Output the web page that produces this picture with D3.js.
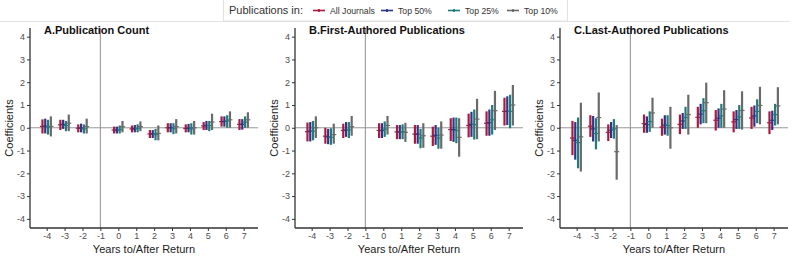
<!DOCTYPE html>
<html>
<head>
<meta charset="utf-8">
<script src="https://cdn.jsdelivr.net/npm/d3@7"></script>
<style>
  body { margin: 0; background: #fff; }
  svg { font-family: "Liberation Sans", Arial, sans-serif; display: block; }
</style>
</head>
<body>
<div id="chart-area"></div>
<script>
// years relative to return (-1 is the reference year, no estimate)
const years = [-4, -3, -2, 0, 1, 2, 3, 4, 5, 6, 7];
const yTicks = [-4, -3, -2, -1, 0, 1, 2, 3, 4];
const xTicks = [-4, -3, -2, -1, 0, 1, 2, 3, 4, 5, 6, 7];
const seriesNames = ['All Journals', 'Top 50%', 'Top 25%', 'Top 10%'];
const seriesColors = ['#b0173f', '#2c3585', '#1f7c7a', '#6a6a6a'];
const panelTitles = ['A.Publication Count', 'B.First-Authored Publications', 'C.Last-Authored Publications'];

// estimates / lower / upper, one row per series, one column per year
const countEst = [
  [0.06, 0.13, -0.02, -0.10, -0.05, -0.27, 0.00, -0.03, 0.08, 0.27, 0.15],
  [0.07, 0.15, -0.01, -0.10, -0.04, -0.27, 0.00, -0.02, 0.10, 0.28, 0.15],
  [0.03, 0.10, -0.05, -0.08, -0.03, -0.30, -0.04, -0.05, 0.10, 0.30, 0.25],
  [0.06, 0.20, 0.05, 0.05, 0.05, -0.25, 0.05, 0.00, 0.25, 0.35, 0.35]
];
const countLo = [
  [-0.25, -0.10, -0.20, -0.25, -0.20, -0.45, -0.20, -0.20, -0.10, 0.05, -0.10],
  [-0.25, -0.05, -0.20, -0.25, -0.20, -0.45, -0.20, -0.20, -0.10, 0.05, -0.08],
  [-0.30, -0.15, -0.25, -0.25, -0.20, -0.55, -0.28, -0.30, -0.15, 0.00, 0.00],
  [-0.38, -0.15, -0.25, -0.20, -0.15, -0.55, -0.25, -0.30, -0.10, 0.00, 0.00]
];
const countHi = [
  [0.37, 0.35, 0.15, 0.05, 0.10, -0.10, 0.20, 0.15, 0.25, 0.50, 0.38],
  [0.40, 0.35, 0.18, 0.05, 0.12, -0.10, 0.20, 0.17, 0.30, 0.50, 0.38],
  [0.35, 0.30, 0.15, 0.10, 0.15, -0.05, 0.20, 0.20, 0.30, 0.55, 0.50],
  [0.50, 0.58, 0.40, 0.30, 0.28, 0.10, 0.38, 0.30, 0.62, 0.72, 0.68]
];

const firstEst = [
  [-0.17, -0.37, -0.12, -0.12, -0.18, -0.28, -0.37, -0.08, 0.10, 0.20, 0.72],
  [-0.15, -0.40, -0.10, -0.12, -0.18, -0.28, -0.33, -0.08, 0.15, 0.22, 0.72],
  [-0.15, -0.42, -0.10, -0.06, -0.18, -0.45, -0.45, -0.12, 0.14, 0.35, 0.72],
  [0.00, -0.30, 0.05, 0.10, -0.20, -0.35, -0.32, -0.42, 0.38, 0.75, 1.00]
];
const firstLo = [
  [-0.60, -0.70, -0.45, -0.45, -0.50, -0.70, -0.80, -0.58, -0.42, -0.35, 0.10],
  [-0.60, -0.72, -0.40, -0.45, -0.50, -0.70, -0.75, -0.62, -0.40, -0.35, 0.12],
  [-0.55, -0.75, -0.45, -0.40, -0.50, -0.90, -0.92, -0.68, -0.52, -0.30, -0.02],
  [-0.45, -0.70, -0.35, -0.30, -0.62, -0.88, -0.92, -1.27, -0.50, -0.10, 0.10]
];
const firstHi = [
  [0.23, 0.00, 0.18, 0.20, 0.12, 0.12, 0.05, 0.42, 0.62, 0.72, 1.32],
  [0.25, -0.05, 0.25, 0.20, 0.12, 0.12, 0.12, 0.45, 0.70, 0.80, 1.38],
  [0.30, -0.02, 0.25, 0.28, 0.15, -0.05, 0.00, 0.45, 0.80, 1.00, 1.45],
  [0.50, 0.18, 0.52, 0.52, 0.22, 0.20, 0.28, 0.42, 1.27, 1.62, 1.88]
];

const lastEst = [
  [-0.45, 0.07, -0.20, 0.18, 0.03, 0.15, 0.46, 0.33, 0.26, 0.43, 0.22],
  [-0.55, -0.05, -0.10, 0.14, 0.12, 0.30, 0.60, 0.42, 0.36, 0.52, 0.33],
  [-0.65, -0.25, -0.05, 0.27, 0.10, 0.45, 0.75, 0.52, 0.48, 0.72, 0.58],
  [-0.40, 0.45, -1.05, 0.65, 0.00, 0.58, 1.10, 0.82, 0.76, 0.98, 0.96]
];
const lastLo = [
  [-1.20, -0.40, -0.58, -0.22, -0.35, -0.28, 0.00, -0.12, -0.20, -0.05, -0.28],
  [-1.40, -0.60, -0.45, -0.22, -0.30, -0.05, 0.15, 0.00, -0.05, 0.05, -0.10],
  [-1.78, -0.95, -0.48, -0.18, -0.35, -0.05, 0.20, 0.00, -0.05, 0.20, 0.10],
  [-1.92, -0.60, -2.28, 0.00, -0.92, -0.30, 0.20, 0.00, -0.08, 0.15, 0.15]
];
const lastHi = [
  [0.30, 0.55, 0.15, 0.58, 0.40, 0.58, 0.92, 0.78, 0.72, 0.92, 0.72],
  [0.25, 0.52, 0.25, 0.50, 0.55, 0.65, 1.05, 0.85, 0.78, 0.98, 0.75],
  [0.45, 0.42, 0.38, 0.72, 0.55, 0.92, 1.30, 1.05, 1.00, 1.25, 1.05],
  [1.10, 1.55, 0.12, 1.32, 0.92, 1.45, 1.98, 1.65, 1.60, 1.80, 1.78]
];

const panels = [
  { est: countEst, lo: countLo, hi: countHi },
  { est: firstEst, lo: firstLo, hi: firstHi },
  { est: lastEst, lo: lastLo, hi: lastHi }
];

const W = 800, H = 261;
const panelW = 265;
const plot = { left: 30, right: 258, top: 28, bottom: 228 };

const svg = d3.select('#chart-area').append('svg')
  .attr('width', W)
  .attr('height', H);

// top strip line + legend box
svg.append('line')
  .attr('x1', 0).attr('x2', 790)
  .attr('y1', 21.5).attr('y2', 21.5)
  .attr('stroke', '#e2e2e2');

const legend = svg.append('g');
legend.append('rect')
  .attr('x', 223.5).attr('y', -1)
  .attr('width', 344).attr('height', 22)
  .attr('fill', '#fff')
  .attr('stroke', '#e2e2e2');
legend.append('text')
  .attr('x', 229).attr('y', 14)
  .attr('font-size', '11px')
  .attr('fill', '#333')
  .text('Publications in:');

// legend key positions
const legendX = [313, 381, 448, 507];
seriesNames.forEach((name, i) => {
  const lg = legend.append('g').attr('transform', `translate(${legendX[i]}, 10.5)`);
  lg.append('line')
    .attr('x1', 0).attr('x2', 12)
    .attr('stroke', seriesColors[i]).attr('stroke-width', 1.6);
  lg.append('line')
    .attr('x1', 6).attr('x2', 6).attr('y1', -1.5).attr('y2', 1.5)
    .attr('stroke', seriesColors[i]).attr('stroke-width', 1.8);
  lg.append('text')
    .attr('x', 17).attr('y', 3)
    .attr('font-size', '8.7px')
    .attr('fill', '#333')
    .text(name);
});

const x = d3.scaleLinear().domain([-4.93, 7.8]).range([plot.left, plot.right]);
const y = d3.scaleLinear().domain([-4.4, 4.38]).range([plot.bottom, plot.top]);
const dodge = d3.scalePoint().domain(d3.range(seriesNames.length)).range([-4.2, 4.2]);

panels.forEach((p, pi) => {
  const g = svg.append('g').attr('transform', `translate(${pi * panelW}, 0)`);

  // reference lines
  g.append('line')
    .attr('x1', x(-1)).attr('x2', x(-1))
    .attr('y1', plot.top).attr('y2', plot.bottom)
    .attr('stroke', '#a0a0a0').attr('stroke-width', 1.2);
  g.append('line')
    .attr('x1', plot.left).attr('x2', plot.right)
    .attr('y1', y(0)).attr('y2', y(0))
    .attr('stroke', '#8c8c8c').attr('stroke-width', 0.9);

  // error bars
  seriesNames.forEach((s, si) => {
    const rows = years.map((yr, k) => ({ yr, est: p.est[si][k], lo: p.lo[si][k], hi: p.hi[si][k] }));
    const sg = g.append('g').attr('stroke', seriesColors[si]);
    sg.selectAll('line.bar')
      .data(rows).enter()
      .append('line')
        .attr('class', 'bar')
        .attr('x1', d => x(d.yr) + dodge(si))
        .attr('x2', d => x(d.yr) + dodge(si))
        .attr('y1', d => y(d.lo))
        .attr('y2', d => y(d.hi))
        .attr('stroke-width', 2.2);
    sg.selectAll('line.mid')
      .data(rows).enter()
      .append('line')
        .attr('class', 'mid')
        .attr('x1', d => x(d.yr) + dodge(si) - 2.5)
        .attr('x2', d => x(d.yr) + dodge(si) + 2.5)
        .attr('y1', d => y(d.est))
        .attr('y2', d => y(d.est))
        .attr('stroke-width', 1.2);
  });

  // axes (plain hyphen minus in tick labels)
  const yAxisCall = d3.axisLeft(y).tickValues(yTicks).tickSize(3).tickPadding(2)
    .tickFormat(d => String(d));
  const yAxis = g.append('g')
    .attr('class', 'y-axis')
    .attr('transform', `translate(${plot.left}, 0)`)
    .call(yAxisCall);
  yAxis.select('.domain').remove();
  yAxis.append('line')
    .attr('y1', plot.top).attr('y2', plot.bottom)
    .attr('stroke', '#333').attr('stroke-width', 1.3);

  const xAxisCall = d3.axisBottom(x).tickValues(xTicks).tickSize(3).tickPadding(2)
    .tickFormat(d => String(d));
  const xAxis = g.append('g')
    .attr('class', 'x-axis')
    .attr('transform', `translate(0, ${plot.bottom})`)
    .call(xAxisCall);
  xAxis.select('.domain').remove();
  xAxis.append('line')
    .attr('x1', plot.left).attr('x2', plot.right)
    .attr('stroke', '#333').attr('stroke-width', 1.3);

  g.selectAll('.tick line').attr('stroke', '#333');
  g.selectAll('.tick text')
    .attr('fill', '#4d4d4d')
    .attr('font-size', '9px')
    .attr('font-family', '"Liberation Sans", Arial, sans-serif');

  // titles
  g.append('text')
    .attr('x', 44).attr('y', 34)
    .attr('font-size', '11px')
    .attr('font-weight', 'bold')
    .attr('fill', '#111')
    .text(panelTitles[pi]);

  g.append('text')
    .attr('x', (plot.left + plot.right) / 2)
    .attr('y', 253)
    .attr('text-anchor', 'middle')
    .attr('font-size', '11px')
    .attr('fill', '#222')
    .text('Years to/After Return');

  g.append('text')
    .attr('transform', `translate(13, ${(plot.top + plot.bottom) / 2}) rotate(-90)`)
    .attr('text-anchor', 'middle')
    .attr('font-size', '11px')
    .attr('fill', '#222')
    .text('Coefficients');
});
</script>
</body>
</html>
